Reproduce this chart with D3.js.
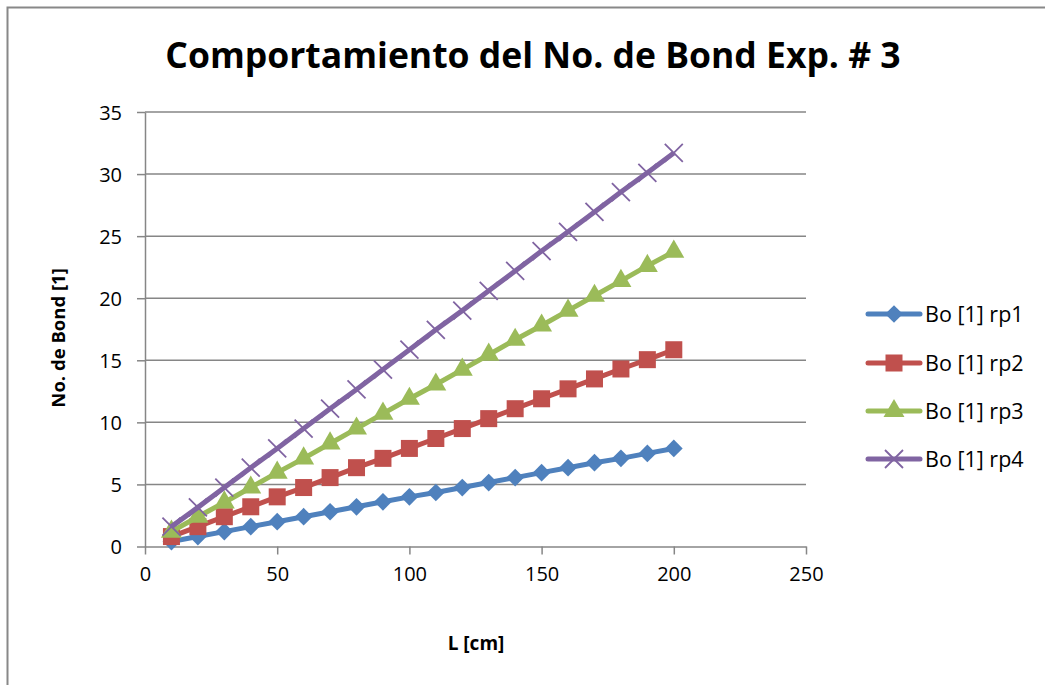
<!DOCTYPE html>
<html>
<head>
<meta charset="utf-8">
<script src="https://cdn.jsdelivr.net/npm/d3@7"></script>
<style>
  body { margin: 0; background: #fff; }
  svg { display: block; font-family: "Open Sans", "Noto Sans", sans-serif; }
  .axis text { font-size: 20px; font-family: "Open Sans", sans-serif; fill: #000; }
</style>
</head>
<body>
<svg id="chart" width="1045" height="685"></svg>
<script>
// L [cm]
const lengths = [10, 20, 30, 40, 50, 60, 70, 80, 90, 100, 110, 120, 130, 140, 150, 160, 170, 180, 190, 200];
const rp1 = [0.4, 0.8, 1.2, 1.6, 2.0, 2.4, 2.8, 3.2, 3.6, 4.0, 4.35, 4.75, 5.15, 5.55, 5.95, 6.35, 6.75, 7.1, 7.5, 7.9];
const rp2 = [0.8, 1.6, 2.4, 3.2, 4.0, 4.75, 5.55, 6.35, 7.1, 7.9, 8.7, 9.5, 10.3, 11.1, 11.9, 12.7, 13.5, 14.3, 15.05, 15.85];
const rp3 = [1.2, 2.4, 3.55, 4.75, 5.95, 7.1, 8.3, 9.5, 10.7, 11.9, 13.05, 14.25, 15.45, 16.65, 17.8, 19.0, 20.2, 21.4, 22.6, 23.75];
const rp4 = [1.6, 3.15, 4.75, 6.35, 7.9, 9.5, 11.1, 12.65, 14.25, 15.85, 17.45, 19.0, 20.6, 22.2, 23.8, 25.35, 26.95, 28.55, 30.1, 31.7];
const seriesNames = ["Bo [1] rp1", "Bo [1] rp2", "Bo [1] rp3", "Bo [1] rp4"];
const xTicks = [0, 50, 100, 150, 200, 250];
const yTicks = [0, 5, 10, 15, 20, 25, 30, 35];

const series = [
  { name: seriesNames[0], values: rp1, color: "#4F81BD", marker: "diamond" },
  { name: seriesNames[1], values: rp2, color: "#C0504D", marker: "square" },
  { name: seriesNames[2], values: rp3, color: "#9BBB59", marker: "triangle" },
  { name: seriesNames[3], values: rp4, color: "#8064A2", marker: "cross" }
];

const svg = d3.select("#chart");
const gridColor = "#868686";

// outer chart border (only left/top visible in picture)
svg.append("rect")
  .attr("x", 7.5).attr("y", 7.5)
  .attr("width", 1100).attr("height", 700)
  .attr("fill", "none")
  .attr("stroke", "#888").attr("stroke-width", 2);

const x = d3.scaleLinear().domain([0, 250]).range([145, 806]);
const y = d3.scaleLinear().domain([0, 35]).range([546.5, 112]);

// gridlines
svg.append("g")
  .selectAll("line")
  .data(yTicks.filter(d => d > 0))
  .join("line")
  .attr("x1", x(0)).attr("x2", x(250))
  .attr("y1", d => y(d)).attr("y2", d => y(d))
  .attr("stroke", gridColor).attr("stroke-width", 1.5);

// axes
const xAxis = svg.append("g")
  .attr("class", "axis")
  .attr("transform", `translate(0,${y(0)})`)
  .call(d3.axisBottom(x).tickValues(xTicks).tickSize(8).tickPadding(12).tickSizeOuter(0));
const yAxis = svg.append("g")
  .attr("class", "axis")
  .attr("transform", `translate(${x(0)},0)`)
  .call(d3.axisLeft(y).tickValues(yTicks).tickSize(8).tickPadding(15).tickSizeOuter(0));

[xAxis, yAxis].forEach(a => {
  a.attr("font-size", 20).attr("font-family", "'Open Sans', sans-serif");
  a.selectAll("path, line").attr("stroke", gridColor).attr("stroke-width", 1.5);
});
yAxis.selectAll("text").attr("dy", "0.35em");

// marker drawing
function drawMarker(g, type, color) {
  if (type === "diamond") {
    g.append("path").attr("d", d3.symbol(d3.symbolDiamond2, 200)())
      .attr("fill", color);
  } else if (type === "square") {
    g.append("rect").attr("x", -8.5).attr("y", -8.5).attr("width", 17).attr("height", 17)
      .attr("fill", color);
  } else if (type === "triangle") {
    g.append("path").attr("d", d3.symbol(d3.symbolTriangle, 190)())
      .attr("fill", color);
  } else {
    g.append("path").attr("d", "M-9,-9L9,9M-9,9L9,-9")
      .attr("stroke", color).attr("stroke-width", 1.8).attr("fill", "none");
  }
}

const line = d3.line()
  .x((d, i) => x(lengths[i]))
  .y(d => y(d));

series.forEach(s => {
  svg.append("path")
    .datum(s.values)
    .attr("d", line)
    .attr("fill", "none")
    .attr("stroke", s.color)
    .attr("stroke-width", 5)
    .attr("stroke-linejoin", "round");
  s.values.forEach((v, i) => {
    const g = svg.append("g").attr("transform", `translate(${x(lengths[i])},${y(v)})`);
    drawMarker(g, s.marker, s.color);
  });
});

// legend
const legendY = [314, 363, 411, 459];
series.forEach((s, i) => {
  const g = svg.append("g").attr("transform", `translate(0,${legendY[i]})`);
  g.append("line").attr("x1", 868).attr("x2", 920).attr("y1", 0).attr("y2", 0)
    .attr("stroke", s.color).attr("stroke-width", 5).attr("stroke-linecap", "round");
  const m = g.append("g").attr("transform", "translate(894,0)");
  drawMarker(m, s.marker, s.color);
  g.append("text").attr("x", 925).attr("y", 0).attr("dy", "0.35em")
    .style("font-size", "21.5px").text(s.name);
});

// title and axis labels
svg.append("text")
  .attr("x", 533).attr("y", 68)
  .attr("text-anchor", "middle")
  .style("font-size", "35.5px").style("font-weight", "bold")
  .text("Comportamiento del No. de Bond Exp. # 3");

svg.append("text")
  .attr("x", 476).attr("y", 650)
  .attr("text-anchor", "middle")
  .style("font-size", "19px").style("font-weight", "bold")
  .text("L [cm]");

svg.append("text")
  .attr("transform", `translate(65,${y(16.8)}) rotate(-90)`)
  .attr("text-anchor", "middle")
  .style("font-size", "18.5px").style("font-weight", "bold")
  .text("No. de Bond [1]");
</script>
</body>
</html>
